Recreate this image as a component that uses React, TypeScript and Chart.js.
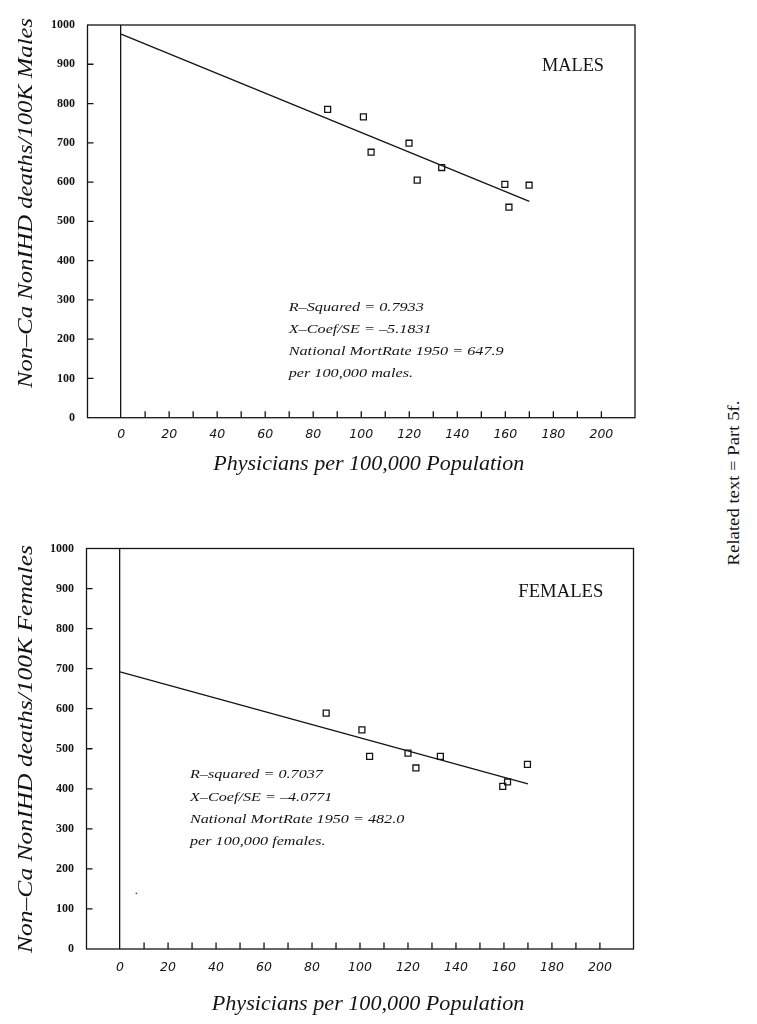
import React, { useEffect, useRef } from 'react';
import { Chart, registerables } from 'chart.js';

Chart.register(...registerables);

// ---------- data ----------
const maleX = [86.0, 100.9, 104.1, 119.9, 123.3, 133.5, 159.8, 161.5, 169.9];
const maleY = [785, 766, 676, 699, 605, 637, 594, 536, 592];
const maleFitX = [0, 170];
const maleFitY = [977, 551];

const femaleX = [85.9, 100.8, 104.0, 120.0, 123.3, 133.5, 159.5, 161.5, 169.8];
const femaleY = [589, 547, 481, 489, 452, 481, 406, 417, 461];
const femaleFitX = [0, 170];
const femaleFitY = [692, 412];
const femaleSpeckX = [6.8];
const femaleSpeckY = [139];

const X_MIN = -14;
const X_MAX = 214;
const X_STEP = 10;
const X_LABEL_STEP = 20;
const X_LABEL_MAX = 200;
const Y_MIN = 0;
const Y_MAX = 1000;
const Y_STEP = 100;

const xTitle = 'Physicians per 100,000 Population';
const maleYTitle = 'Non–Ca NonIHD deaths/100K Males';
const femaleYTitle = 'Non–Ca NonIHD deaths/100K Females';
const maleLabel = 'MALES';
const femaleLabel = 'FEMALES';
const maleNotes = [
  'R–Squared = 0.7933',
  'X–Coef/SE = –5.1831',
  'National MortRate 1950 = 647.9',
  'per 100,000 males.',
];
const femaleNotes = [
  'R–squared = 0.7037',
  'X–Coef/SE = –4.0771',
  'National MortRate 1950 = 482.0',
  'per 100,000 females.',
];
const sideNote = 'Related text = Part 5f.';

// ---------- styling ----------
const INK = '#141414';
const LW = 1.3;
const CANVAS_W = 700;

type Layout = {
  top: number;
  height: number;
  area: { left: number; top: number; right: number; bottom: number };
  yTitle: { x: number; cy: number; width: number };
  xTitle: { cx: number; y: number; width: number };
  label: { right: number; y: number; width: number };
  notes: { left: number; y: number; gap: number; width: number };
  tickPadX: number;
};

function drawText(
  ctx: CanvasRenderingContext2D,
  text: string,
  x: number,
  y: number,
  font: string,
  align: CanvasTextAlign,
  sx: number,
  rotate = 0
) {
  ctx.save();
  ctx.font = font;
  ctx.fillStyle = INK;
  ctx.textBaseline = 'alphabetic';
  ctx.textAlign = align;
  ctx.translate(x, y);
  if (rotate) ctx.rotate(rotate);
  ctx.scale(sx, 1);
  ctx.fillText(text, 0, 0);
  ctx.restore();
}

function fitScale(ctx: CanvasRenderingContext2D, text: string, font: string, width: number) {
  ctx.save();
  ctx.font = font;
  const w = ctx.measureText(text).width;
  ctx.restore();
  return w > 0 ? width / w : 1;
}

type Props = {
  layout: Layout;
  xs: number[];
  ys: number[];
  fitXs: number[];
  fitYs: number[];
  speckXs?: number[];
  speckYs?: number[];
  yTitle: string;
  label: string;
  notes: string[];
};

function Panel({ layout, xs, ys, fitXs, fitYs, speckXs, speckYs, yTitle, label, notes }: Props) {
  const ref = useRef<HTMLCanvasElement | null>(null);

  useEffect(() => {
    const canvas = ref.current;
    if (!canvas) return;
    const L = layout;
    const off = L.top;

    const decor = {
      id: 'decor',
      afterDatasetsDraw(chart: any) {
        const { ctx, chartArea: a, scales } = chart;
        const sx = scales.x;
        const sy = scales.y;
        ctx.save();
        ctx.strokeStyle = INK;
        ctx.lineWidth = LW;
        ctx.strokeRect(a.left, a.top, a.right - a.left, a.bottom - a.top);
        ctx.beginPath();
        for (const t of sx.ticks) {
          const v = Math.round(t.value);
          if (v > 0 && v <= X_LABEL_MAX && v % X_STEP === 0) {
            const px = sx.getPixelForValue(v);
            ctx.moveTo(px, a.bottom);
            ctx.lineTo(px, a.bottom - 6.5);
          }
        }
        for (const t of sy.ticks) {
          const v = Math.round(t.value);
          if (v > Y_MIN && v < Y_MAX) {
            const py = sy.getPixelForValue(v);
            ctx.moveTo(a.left, py);
            ctx.lineTo(a.left + 6, py);
          }
        }
        ctx.stroke();
        ctx.restore();

        // y title
        const yFont = 'italic 20px "Liberation Serif"';
        const ys1 = fitScale(ctx, yTitle, yFont, L.yTitle.width);
        drawText(ctx, yTitle, L.yTitle.x, L.yTitle.cy - off, yFont, 'center', ys1, -Math.PI / 2);
        // x title
        const xFont = 'italic 22px "Liberation Serif"';
        const xs1 = fitScale(ctx, xTitle, xFont, L.xTitle.width);
        drawText(ctx, xTitle, L.xTitle.cx, L.xTitle.y - off, xFont, 'center', xs1);
        // sex label
        const lFont = '18px "Liberation Serif"';
        const ls = fitScale(ctx, label, lFont, L.label.width);
        drawText(ctx, label, L.label.right, L.label.y - off, lFont, 'right', ls);
        // notes
        const nFont = 'italic 13.5px "Liberation Serif"';
        const longest = notes.reduce((m, s) => (s.length > m.length ? s : m), '');
        const ns = fitScale(ctx, longest, nFont, L.notes.width);
        notes.forEach((s, i) => {
          drawText(ctx, s, L.notes.left, L.notes.y + i * L.notes.gap - off, nFont, 'left', ns);
        });
      },
    };

    const pts = xs.map((x, i) => ({ x, y: ys[i] }));
    const fit = fitXs.map((x, i) => ({ x, y: fitYs[i] }));
    const datasets: any[] = [
      {
        label: 'data',
        data: pts,
        showLine: false,
        pointStyle: 'rect',
        pointRadius: 4.2,
        pointBorderWidth: LW,
        pointBorderColor: INK,
        pointBackgroundColor: 'rgba(0,0,0,0)',
      },
      {
        label: 'fit',
        data: fit,
        showLine: true,
        borderColor: INK,
        borderWidth: LW,
        pointRadius: 0,
        fill: false,
      },
    ];
    if (speckXs && speckYs) {
      datasets.push({
        label: 'speck',
        data: speckXs.map((x, i) => ({ x, y: speckYs[i] })),
        showLine: false,
        pointRadius: 0.9,
        pointBorderWidth: 0,
        pointBackgroundColor: '#555',
      });
    }

    const xAxisHeight = L.top + L.height - L.area.bottom;

    const chart = new Chart(canvas, {
      type: 'scatter',
      data: { datasets },
      options: {
        animation: false,
        responsive: false,
        devicePixelRatio: 1,
        events: [],
        layout: {
          padding: {
            left: 0,
            top: L.area.top - L.top,
            right: CANVAS_W - L.area.right,
            bottom: 0,
          },
        },
        plugins: { legend: { display: false }, tooltip: { enabled: false } },
        scales: {
          x: {
            type: 'linear',
            min: X_MIN,
            max: X_MAX,
            afterFit: (s: any) => {
              s.height = xAxisHeight;
            },
            border: { display: false },
            grid: {
              drawTicks: false,
              lineWidth: LW,
              color: (c: any) =>
                c.tick && Math.round(c.tick.value) === 0 ? INK : 'rgba(0,0,0,0)',
            },
            ticks: {
              stepSize: X_STEP,
              autoSkip: false,
              maxRotation: 0,
              padding: L.tickPadX,
              color: INK,
              font: { family: '"DejaVu Sans"', size: 12.5, style: 'italic' },
              callback: (v: any) => {
                const n = Math.round(Number(v));
                return n >= 0 && n <= X_LABEL_MAX && n % X_LABEL_STEP === 0 ? String(n) : '';
              },
            },
          },
          y: {
            type: 'linear',
            min: Y_MIN,
            max: Y_MAX,
            afterFit: (s: any) => {
              s.width = L.area.left;
            },
            border: { display: false },
            grid: { display: false, drawTicks: false },
            ticks: {
              stepSize: Y_STEP,
              padding: 12.5,
              color: INK,
              font: { family: '"Liberation Serif"', size: 12, weight: 'bold' },
              callback: (v: any) => String(Math.round(Number(v))),
            },
          },
        },
      },
      plugins: [decor],
    });
    return () => chart.destroy();
  }, []);

  return (
    <canvas
      ref={ref}
      width={CANVAS_W}
      height={layout.height}
      style={{ position: 'absolute', left: 0, top: layout.top, width: CANVAS_W, height: layout.height }}
    />
  );
}

const topLayout: Layout = {
  top: 0,
  height: 500,
  area: { left: 87.5, top: 25, right: 635, bottom: 417.7 },
  yTitle: { x: 31.7, cy: 203, width: 370 },
  xTitle: { cx: 368.7, y: 469.5, width: 311 },
  label: { right: 604, y: 70.7, width: 62 },
  notes: { left: 288.7, y: 310.5, gap: 22.2, width: 215 },
  tickPadX: 9.4,
};

const bottomLayout: Layout = {
  top: 510,
  height: 514,
  area: { left: 86.5, top: 548.5, right: 633.5, bottom: 949 },
  yTitle: { x: 31.7, cy: 749, width: 408 },
  xTitle: { cx: 368, y: 1010, width: 312.6 },
  label: { right: 603.3, y: 597.3, width: 85 },
  notes: { left: 190, y: 778.3, gap: 22.2, width: 214.3 },
  tickPadX: 10.8,
};

export default function App() {
  useEffect(() => {
    document.body.style.margin = '0';
    document.body.style.background = '#fff';
  }, []);
  return (
    <div style={{ position: 'absolute', left: 0, top: 0, width: 757, height: 1024, background: '#fff', overflow: 'hidden' }}>
      <Panel
        layout={topLayout}
        xs={maleX}
        ys={maleY}
        fitXs={maleFitX}
        fitYs={maleFitY}
        yTitle={maleYTitle}
        label={maleLabel}
        notes={maleNotes}
      />
      <Panel
        layout={bottomLayout}
        xs={femaleX}
        ys={femaleY}
        fitXs={femaleFitX}
        fitYs={femaleFitY}
        speckXs={femaleSpeckX}
        speckYs={femaleSpeckY}
        yTitle={femaleYTitle}
        label={femaleLabel}
        notes={femaleNotes}
      />
      <div
        style={{
          position: 'absolute',
          left: 733,
          top: 483,
          transform: 'translate(-50%, -50%) rotate(-90deg) scaleX(1.1)',
          whiteSpace: 'nowrap',
          fontFamily: '"Liberation Serif", serif',
          fontSize: 17,
          color: INK,
          lineHeight: 1,
        }}
      >
        {sideNote}
      </div>
    </div>
  );
}
